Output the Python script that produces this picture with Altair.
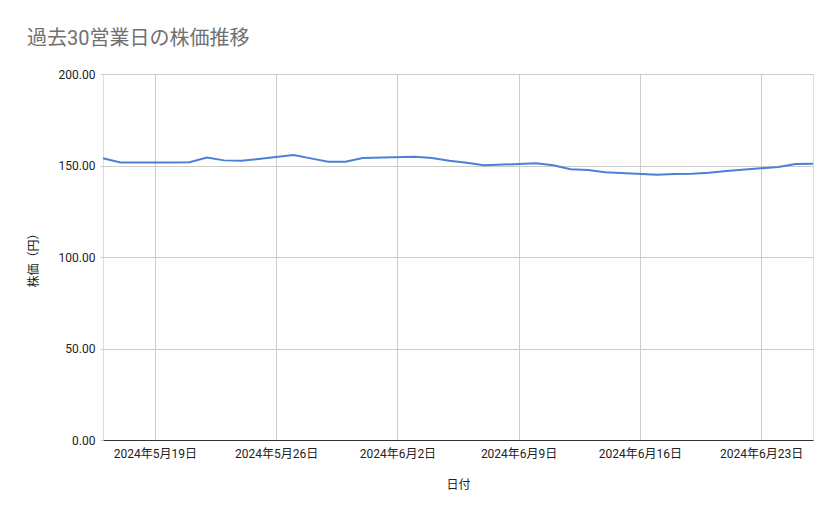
import altair as alt
import pandas as pd

dates = [
    "2024-05-16", "2024-05-17",
    "2024-05-20", "2024-05-21", "2024-05-22", "2024-05-23", "2024-05-24",
    "2024-05-27", "2024-05-28", "2024-05-29", "2024-05-30", "2024-05-31",
    "2024-06-03", "2024-06-04", "2024-06-05", "2024-06-06", "2024-06-07",
    "2024-06-10", "2024-06-11", "2024-06-12", "2024-06-13", "2024-06-14",
    "2024-06-17", "2024-06-18", "2024-06-19", "2024-06-20", "2024-06-21",
    "2024-06-24", "2024-06-25", "2024-06-26",
]
prices = [
    154.0, 151.7,
    151.7, 151.8, 154.3, 152.8, 152.6,
    155.7, 153.9, 152.1, 152.1, 154.1,
    154.8, 154.1, 152.6, 151.5, 150.1,
    151.2, 150.1, 147.9, 147.5, 146.3,
    145.0, 145.4, 145.5, 146.1, 147.0,
    149.2, 150.8, 151.0,
]
tick_dates = [(5, 19), (5, 26), (6, 2), (6, 9), (6, 16), (6, 23)]
y_ticks = [0, 50, 100, 150, 200]

df = pd.DataFrame({"date": dates, "price": prices})

FONT = "Roboto, Noto Sans CJK JP, sans-serif"

chart = (
    alt.Chart(df)
    .mark_line(color="#4a80d9", strokeWidth=2, interpolate="linear")
    .encode(
        x=alt.X(
            "date:T",
            title="日付",
            scale=alt.Scale(
                type="utc",
                domain=[
                    alt.DateTime(year=2024, month=5, date=16, utc=True),
                    alt.DateTime(year=2024, month=6, date=26, utc=True),
                ],
            ),
            axis=alt.Axis(
                values=[alt.DateTime(year=2024, month=m, date=d, utc=True) for m, d in tick_dates],
                labelExpr="utcyear(datum.value) + '年' + (utcmonth(datum.value) + 1) + '月' + utcdate(datum.value) + '日'",
                grid=True,
                gridColor="#cccccc",
                domain=True,
                domainColor="#333333",
                ticks=False,
                labelPadding=8,
                labelFontSize=12,
                labelColor="#222222",
                labelFont=FONT,
                titleFont=FONT,
                titleFontSize=12,
                titleFontWeight="normal",
                titleColor="#222222",
                titlePadding=20,
            ),
        ),
        y=alt.Y(
            "price:Q",
            title="株価（円）",
            scale=alt.Scale(domain=[0, 200], nice=False, zero=True),
            axis=alt.Axis(
                values=y_ticks,
                format=".2f",
                grid=True,
                gridColor="#cccccc",
                domain=False,
                ticks=True,
                tickSize=3,
                tickColor="#cccccc",
                labelPadding=5,
                labelFontSize=12,
                labelColor="#222222",
                labelFont=FONT,
                titleFont=FONT,
                titleFontSize=12,
                titleFontWeight="normal",
                titleColor="#222222",
                titlePadding=18,
            ),
        ),
    )
    .properties(
        width=710,
        height=366,
        title=alt.TitleParams(
            "過去30営業日の株価推移",
            anchor="start",
            font=FONT,
            fontSize=20,
            fontWeight="normal",
            color="#707070",
            dx=0,
            offset=19,
        ),
        padding={"left": 95, "top": 66, "right": 18, "bottom": 71},
        autosize=alt.AutoSizeParams(type="none"),
    )
    .configure_view(stroke=None)
    .configure(background="white")
)

chart.save("out.html", embed_options={"renderer": "svg", "actions": False})
